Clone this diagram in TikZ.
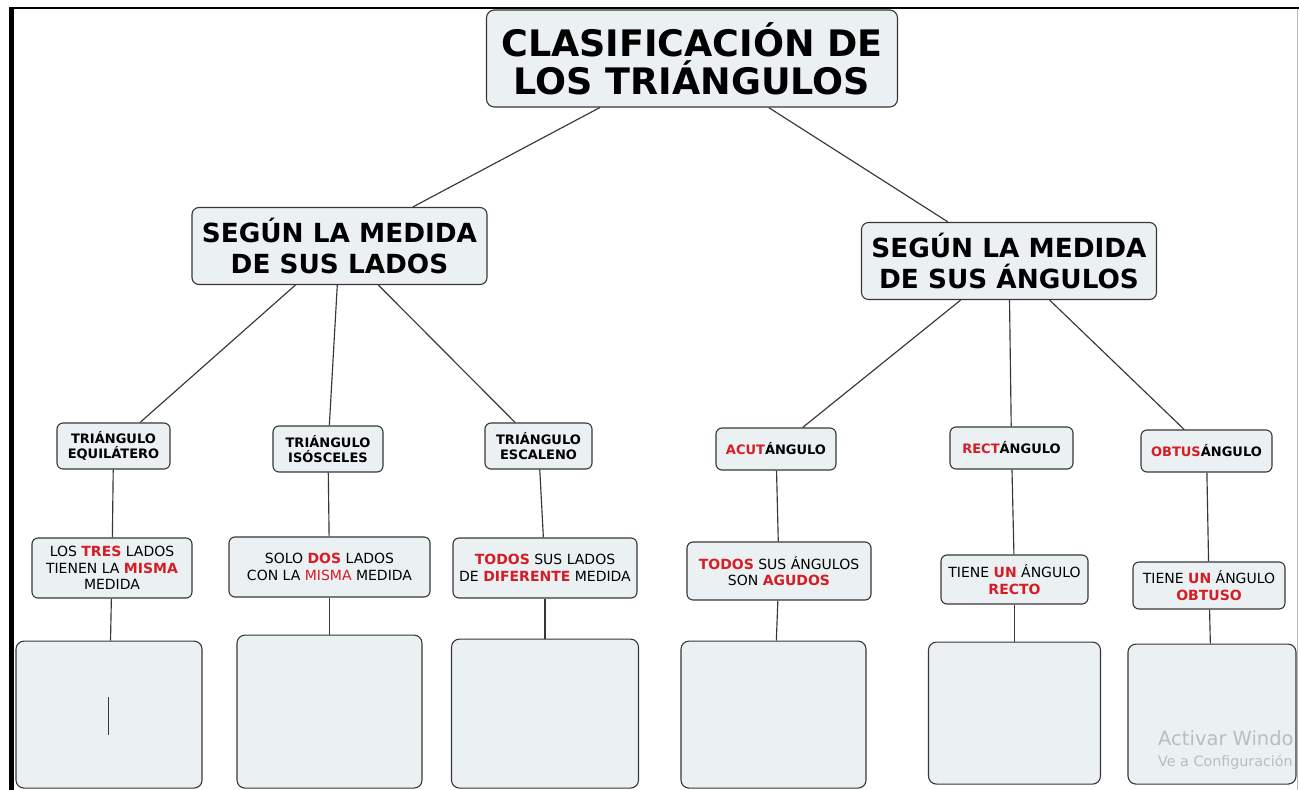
\documentclass[tikz,border=0pt]{standalone}
\usepackage{fontspec}
\setmainfont{DejaVu Sans}
\usetikzlibrary{positioning}
\definecolor{boxfill}{RGB}{235,241,243}
\definecolor{boxline}{RGB}{55,55,55}
\definecolor{hot}{RGB}{214,28,36}
\definecolor{ghost}{RGB}{185,189,193}
\newcommand{\rojo}[1]{\textcolor{hot}{\textbf{#1}}}

\begin{document}
\begin{tikzpicture}[x=1pt, y=-1pt,
    main/.style = {draw=boxline, fill=boxfill, line width=1.1pt, rounded corners=6pt, align=center, inner sep=0pt},
    titlebox/.style = {main, rounded corners=8pt, minimum width=411pt, minimum height=97pt, font=\bfseries\fontsize{36.5}{38}\selectfont},
    catbox/.style = {main, rounded corners=7pt, minimum width=295pt, minimum height=77pt, font=\bfseries\fontsize{26.3}{31}\selectfont},
    typebox/.style = {main, minimum height=46pt, font=\bfseries\fontsize{13}{15.5}\selectfont},
    textbox/.style = {main, font=\fontsize{14}{16.5}\selectfont},
    slot/.style = {main, rounded corners=8pt},
    link/.style = {draw=boxline, line width=1.15pt}]
    \fill[white] (0,0) rectangle (1299,790);
    \useasboundingbox (0,0) rectangle (1299,790);
    % screen frame
    \draw[line width=5pt] (11.5,7) -- (11.5,790);
    \draw[line width=2.5pt] (9,8.2) -- (1299,8.2);
    \draw[gray!55, line width=1pt] (1297.5,9) -- (1297.5,790);

    \node[titlebox] (title) at (692,58.5) {CLASIFICACIÓN DE\\LOS TRIÁNGULOS};
    \node[catbox] (lados) at (339.5,246) {SEGÚN LA MEDIDA\\DE SUS LADOS};
    \node[catbox] (angulos) at (1009,261) {SEGÚN LA MEDIDA\\DE SUS ÁNGULOS};

    \node[typebox, minimum width=113pt] (equi) at (113.5,446) {TRIÁNGULO\\EQUILÁTERO};
    \node[typebox, minimum width=110pt] (isos) at (328,449) {TRIÁNGULO\\ISÓSCELES};
    \node[typebox, minimum width=107pt] (esca) at (538.5,446) {TRIÁNGULO\\ESCALENO};
    \node[typebox, minimum width=120pt, minimum height=42pt] (acut) at (776,449) {\textcolor{hot}{ACUT}ÁNGULO};
    \node[typebox, minimum width=123pt, minimum height=42pt] (rect) at (1011.5,448) {\textcolor{hot}{RECT}ÁNGULO};
    \node[typebox, minimum width=131pt, minimum height=42pt] (obtu) at (1206.5,451) {\textcolor{hot}{OBTUS}ÁNGULO};

    \node[textbox, minimum width=160pt, minimum height=60pt] (tres) at (112,568) {LOS \rojo{TRES} LADOS\\TIENEN LA \rojo{MISMA}\\MEDIDA};
    \node[textbox, minimum width=201pt, minimum height=60pt] (dos) at (329.5,567) {SOLO \rojo{DOS} LADOS\\CON LA \textcolor{hot}{MISMA} MEDIDA};
    \node[textbox, minimum width=184pt, minimum height=60pt] (diferente) at (545,568) {\rojo{TODOS} SUS LADOS\\DE \rojo{DIFERENTE} MEDIDA};
    \node[textbox, minimum width=184pt, minimum height=58pt] (agudos) at (779,571) {\rojo{TODOS} SUS ÁNGULOS\\SON \rojo{AGUDOS}};
    \node[textbox, minimum width=147pt, minimum height=49pt] (recto) at (1014.5,579.5) {TIENE \rojo{UN} ÁNGULO\\\rojo{RECTO}};
    \node[textbox, minimum width=152pt, minimum height=47pt] (obtuso) at (1209,585.5) {TIENE \rojo{UN} ÁNGULO\\\rojo{OBTUSO}};

    \node[slot, minimum width=186pt, minimum height=147pt] (slot1) [below=42pt of tres, xshift=-3pt] {};
    \node[slot, minimum width=185pt, minimum height=153pt] (slot2) [below=37pt of dos] {};
    \node[slot, minimum width=187pt, minimum height=149pt] (slot3) [below=40pt of diferente] {};
    \node[slot, minimum width=185pt, minimum height=147pt] (slot4) [below=40pt of agudos, xshift=-5.5pt] {};
    \node[slot, minimum width=172pt, minimum height=142pt] (slot5) [below=37pt of recto] {};
    \node[slot, minimum width=168pt, minimum height=140pt] (slot6) [below=34pt of obtuso, xshift=3pt] {};

    \draw[link] (title) -- (lados);
    \draw[link] (title) -- (angulos);
    \draw[link] (lados) -- (equi);
    \draw[link] (lados) -- (isos);
    \draw[link] (lados) -- (esca);
    \draw[link] (angulos) -- (acut);
    \draw[link] (angulos) -- (rect);
    \draw[link] (angulos) -- (obtu);
    \draw[link] (equi) -- (tres);
    \draw[link] (isos) -- (dos);
    \draw[link] (esca) -- (diferente);
    \draw[link] (acut) -- (agudos);
    \draw[link] (rect) -- (recto);
    \draw[link] (obtu) -- (obtuso);
    \draw[link] (tres) -- (slot1);
    \draw[link] (dos) -- (slot2);
    \draw[link] (diferente) -- (slot3);
    \draw[link] (agudos) -- (slot4);
    \draw[link] (recto) -- (slot5);
    \draw[link] (obtuso) -- (slot6);

    % text cursor and watermark
    \draw[boxline, line width=1pt] (108.5,697) -- (108.5,735);
    \node[anchor=base west, inner sep=0pt, text=ghost, font=\fontsize{19.5}{20}\selectfont] (activar) at (1158,745) {Activar Windo};
    \node[anchor=base west, inner sep=0pt, text=ghost, font=\fontsize{14.3}{15}\selectfont] (config) at (1158,766) {Ve a Configuración};
\end{tikzpicture}
\end{document}
